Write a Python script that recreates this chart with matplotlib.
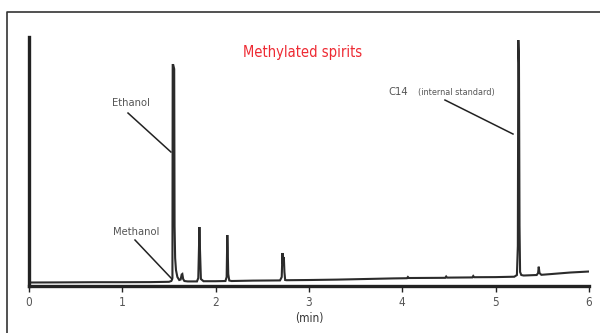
import matplotlib as mpl
mpl.use('Agg')
import matplotlib.pyplot as plt
from matplotlib.lines import Line2D

plt.rcParams['font.family'] = ['Liberation Sans Narrow', 'DejaVu Sans']
plt.rcParams['font.stretch'] = 'condensed'

# chromatogram trace: retention time (min) and detector signal (arb. units)
rt_min = [0.00, 0.30, 0.70, 1.00, 1.30, 1.50, 1.525, 1.533, 1.537,
          1.540, 1.546, 1.556, 1.560, 1.566, 1.575, 1.590, 1.610, 1.625,
          1.636, 1.643, 1.652, 1.665, 1.700, 1.800, 1.814, 1.822, 1.826,
          1.831, 1.842, 1.870, 2.000, 2.105, 2.118, 2.125, 2.129, 2.135,
          2.146, 2.170, 2.400, 2.690, 2.708, 2.716, 2.721, 2.727, 2.732,
          2.737, 2.745, 2.760, 3.000, 3.300, 3.600, 3.900, 4.050, 4.060,
          4.070, 4.460, 4.470, 4.480, 4.750, 4.760, 4.770, 5.000, 5.200,
          5.228, 5.238, 5.243, 5.250, 5.256, 5.262, 5.275, 5.300, 5.440,
          5.455, 5.462, 5.470, 5.490, 5.600, 5.800, 6.000]
signal = [3.5, 3.6, 3.8, 3.8, 3.9, 4.2, 5.0, 6.5, 8.0,
          221, 221, 217, 60, 28, 16, 9, 6.0, 6.5,
          11.5, 12.0, 7.0, 5.0, 4.6, 4.6, 8.0, 40, 59,
          40, 7.0, 4.8, 4.8, 5.0, 9.0, 51, 38, 12,
          5.5, 5.0, 5.4, 5.6, 9.0, 33, 22, 29, 26,
          14, 6.0, 5.8, 6.0, 6.4, 7.0, 7.6, 7.8, 9.0,
          8.0, 8.2, 9.5, 8.4, 8.6, 10.0, 8.8, 8.9, 9.3,
          11, 40, 246, 223, 60, 14, 11, 10.5, 11,
          13, 19.3, 13, 11.2, 12, 13.5, 14.5]

time_ticks = [0, 1, 2, 3, 4, 5, 6]

fig = plt.figure(figsize=(6, 3.33), dpi=100)
ax = fig.add_axes([0.0483, 0.1411, 0.9333, 0.7477])

ax.plot(rt_min, signal, color='#2b2b2b', lw=1.5, solid_joinstyle='miter')

ax.set_xlim(0, 6)
ax.set_ylim(0, 249)
ax.set_xticks(time_ticks)
ax.set_xticklabels([str(t) for t in time_ticks], color='#555555', fontsize=8.5)
ax.set_yticks([])
ax.tick_params(axis='x', direction='out', length=4, width=1, color='#222222', pad=3)
ax.set_xlabel('(min)', color='#333333', fontsize=8.5, labelpad=2)

for side in ['top', 'right']:
    ax.spines[side].set_visible(False)
for side in ['left', 'bottom']:
    ax.spines[side].set_linewidth(2.4)
    ax.spines[side].set_color('#222222')

ax.text(2.936, 234, 'Methylated spirits', color='#ee2a33', fontsize=10.5,
        ha='center', va='center')

# peak labels with leader lines
ax.text(1.088, 183, 'Ethanol', color='#555555', fontsize=8, ha='center', va='center')
ax.plot([1.061, 1.521], [173, 134], color='#222222', lw=1.1)
ax.text(1.146, 54, 'Methanol', color='#555555', fontsize=8, ha='center', va='center')
ax.plot([1.136, 1.532], [46, 7], color='#222222', lw=1.1)
ax.text(3.846, 194, 'C14', color='#555555', fontsize=8, ha='left', va='center')
ax.text(4.168, 194, '(internal standard)', color='#555555', fontsize=6.5,
        ha='left', va='center')
ax.plot([4.457, 5.186], [186, 152], color='#222222', lw=1.1)

# outer frame, open at the right and bottom
fig.add_artist(Line2D([0.0117, 0.0117, 1.0], [0.0, 0.964, 0.964],
                      transform=fig.transFigure, color='#333333', lw=1.2))

plt.savefig('out.png', dpi=100)
